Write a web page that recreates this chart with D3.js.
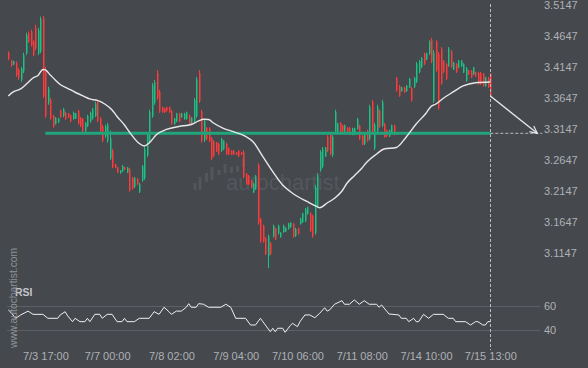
<!DOCTYPE html>
<html><head><meta charset="utf-8">
<script src="https://cdn.jsdelivr.net/npm/d3@7"></script>
<style>html,body{margin:0;padding:0;background:#45484d;}svg{display:block}</style>
</head><body><svg id="c" width="588" height="368"></svg>
<script>
// ---------- DATA ----------
const opens = [3.438,3.425,3.419,3.421,3.411,3.394,3.408,3.437,3.469,3.472,
3.456,3.478,3.437,3.440,3.493,3.410,3.357,3.362,3.336,3.323,
3.326,3.345,3.336,3.341,3.340,3.337,3.331,3.332,3.344,3.333,
3.331,3.312,3.320,3.327,3.332,3.336,3.358,3.332,3.319,3.303,
3.296,3.268,3.280,3.258,3.253,3.244,3.247,3.253,3.245,3.250,
3.236,3.222,3.235,3.214,3.232,3.236,3.273,3.296,3.336,3.357,
3.405,3.375,3.350,3.348,3.350,3.350,3.344,3.323,3.327,3.340,
3.334,3.331,3.331,3.337,3.323,3.328,3.336,3.405,3.343,3.297,
3.317,3.316,3.300,3.295,3.293,3.291,3.280,3.283,3.291,3.284,
3.280,3.280,3.277,3.280,3.277,3.278,3.243,3.240,3.232,3.213,
3.219,3.257,3.170,3.159,3.139,3.110,3.131,3.142,3.155,3.147,
3.141,3.149,3.150,3.154,3.157,3.162,3.143,3.155,3.162,3.165,
3.167,3.178,3.179,3.175,3.148,3.191,3.249,3.255,3.271,3.303,
3.306,3.273,3.311,3.310,3.325,3.321,3.311,3.317,3.317,3.306,
3.306,3.315,3.320,3.304,3.291,3.312,3.300,3.358,3.284,3.312,
3.344,3.321,3.323,3.313,3.303,3.310,3.321,3.397,3.384,3.376,
3.382,3.376,3.382,3.381,3.383,3.391,3.407,3.415,3.436,3.427,
3.436,3.459,3.360,3.455,3.436,3.444,3.425,3.419,3.417,3.440,
3.411,3.420,3.414,3.416,3.406,3.393,3.409,3.409,3.403,3.406,
3.405,3.405,3.404,3.384,3.398,3.404];
const highs = [3.440,3.426,3.425,3.424,3.413,3.415,3.438,3.470,3.472,3.475,
3.458,3.483,3.478,3.496,3.497,3.415,3.383,3.365,3.338,3.334,
3.333,3.346,3.349,3.343,3.341,3.338,3.343,3.341,3.346,3.334,
3.333,3.326,3.338,3.343,3.349,3.359,3.362,3.334,3.322,3.322,
3.325,3.313,3.283,3.259,3.254,3.249,3.257,3.254,3.254,3.252,
3.238,3.238,3.236,3.228,3.257,3.286,3.309,3.346,3.389,3.394,
3.410,3.378,3.351,3.349,3.351,3.351,3.346,3.333,3.341,3.341,
3.341,3.341,3.343,3.338,3.334,3.365,3.399,3.410,3.346,3.330,
3.318,3.318,3.302,3.297,3.294,3.293,3.301,3.297,3.293,3.285,
3.281,3.281,3.278,3.281,3.278,3.281,3.244,3.241,3.233,3.228,
3.241,3.260,3.172,3.161,3.141,3.145,3.133,3.161,3.156,3.161,
3.149,3.161,3.157,3.164,3.165,3.164,3.156,3.156,3.172,3.180,
3.188,3.190,3.181,3.177,3.225,3.244,3.281,3.286,3.286,3.305,
3.309,3.305,3.346,3.325,3.326,3.322,3.322,3.318,3.318,3.317,
3.317,3.333,3.322,3.305,3.309,3.314,3.354,3.362,3.325,3.354,
3.346,3.362,3.325,3.314,3.314,3.322,3.322,3.399,3.386,3.383,
3.383,3.386,3.397,3.383,3.399,3.423,3.426,3.431,3.438,3.438,
3.458,3.462,3.442,3.458,3.439,3.447,3.426,3.421,3.447,3.442,
3.423,3.421,3.426,3.426,3.421,3.415,3.410,3.410,3.415,3.407,
3.407,3.407,3.405,3.399,3.399,3.405];
const lows = [3.426,3.415,3.418,3.399,3.394,3.391,3.405,3.434,3.454,3.448,
3.432,3.442,3.434,3.437,3.365,3.333,3.354,3.330,3.317,3.322,
3.325,3.333,3.334,3.330,3.333,3.326,3.330,3.331,3.322,3.318,
3.310,3.310,3.318,3.325,3.330,3.334,3.326,3.310,3.294,3.301,
3.293,3.265,3.252,3.252,3.244,3.243,3.246,3.249,3.244,3.214,
3.217,3.220,3.225,3.212,3.230,3.233,3.270,3.293,3.333,3.354,
3.362,3.341,3.341,3.341,3.343,3.341,3.322,3.322,3.326,3.326,
3.333,3.330,3.330,3.322,3.322,3.326,3.333,3.357,3.293,3.294,
3.297,3.294,3.265,3.270,3.278,3.273,3.278,3.281,3.273,3.273,
3.273,3.273,3.273,3.270,3.273,3.236,3.225,3.225,3.220,3.212,
3.217,3.161,3.132,3.132,3.112,3.091,3.112,3.140,3.136,3.145,
3.140,3.148,3.149,3.153,3.156,3.140,3.141,3.145,3.161,3.164,
3.165,3.177,3.149,3.140,3.145,3.188,3.246,3.252,3.270,3.278,
3.273,3.270,3.309,3.309,3.310,3.310,3.310,3.310,3.305,3.305,
3.305,3.314,3.297,3.289,3.289,3.294,3.297,3.309,3.281,3.309,
3.317,3.318,3.301,3.302,3.302,3.309,3.305,3.375,3.367,3.375,
3.373,3.375,3.381,3.359,3.381,3.389,3.405,3.413,3.418,3.426,
3.434,3.421,3.357,3.407,3.346,3.386,3.405,3.394,3.415,3.413,
3.410,3.405,3.413,3.415,3.405,3.391,3.402,3.397,3.402,3.399,
3.386,3.386,3.383,3.383,3.381,3.367];
const closes = [3.428,3.417,3.424,3.402,3.397,3.412,3.434,3.466,3.456,3.450,
3.434,3.445,3.474,3.492,3.368,3.336,3.380,3.332,3.319,3.333,
3.332,3.334,3.347,3.331,3.334,3.327,3.341,3.340,3.324,3.319,
3.312,3.325,3.336,3.341,3.347,3.356,3.328,3.312,3.296,3.319,
3.322,3.300,3.254,3.253,3.245,3.248,3.256,3.250,3.253,3.216,
3.219,3.236,3.226,3.226,3.255,3.282,3.306,3.342,3.385,3.390,
3.365,3.343,3.342,3.342,3.344,3.342,3.324,3.332,3.340,3.327,
3.340,3.340,3.342,3.323,3.333,3.362,3.395,3.360,3.296,3.327,
3.299,3.296,3.267,3.272,3.279,3.275,3.299,3.296,3.275,3.274,
3.274,3.274,3.274,3.271,3.274,3.238,3.226,3.226,3.221,3.227,
3.239,3.164,3.134,3.134,3.114,3.142,3.114,3.159,3.138,3.159,
3.148,3.160,3.156,3.163,3.164,3.142,3.154,3.146,3.171,3.179,
3.186,3.189,3.151,3.142,3.221,3.240,3.278,3.283,3.285,3.280,
3.275,3.302,3.343,3.324,3.311,3.311,3.321,3.311,3.306,3.316,
3.316,3.331,3.299,3.290,3.307,3.296,3.350,3.312,3.322,3.350,
3.319,3.358,3.302,3.303,3.313,3.321,3.306,3.377,3.368,3.382,
3.374,3.385,3.396,3.361,3.397,3.420,3.424,3.429,3.420,3.437,
3.456,3.424,3.438,3.410,3.349,3.389,3.407,3.396,3.445,3.415,
3.422,3.407,3.425,3.425,3.420,3.413,3.403,3.398,3.414,3.400,
3.388,3.388,3.385,3.398,3.383,3.368];

const maIdx = [0,2,5,8,10,12,14,15,17,19,21,24,27,31,33,36,39,42,44,47,
49,53,55,57,60,64,69,74,77,79,81,83,87,91,96,99,103,107,111,115,
121,125,126,129,132,135,137,140,143,145,149,152,157,161,165,169,171,173,176,180,
184,189,195];
const maVal = [3.3682,3.3747,3.3795,3.3899,3.3972,3.4012,3.4109,3.4101,3.4020,3.3940,
3.3867,3.3806,3.3742,3.3669,3.3634,3.3610,3.3553,3.3457,3.3352,3.3215,
3.3102,3.2917,3.2877,3.2925,3.3062,3.3143,3.3191,3.3223,3.3280,3.3307,
3.3304,3.3247,3.3162,3.3107,3.3030,3.2946,3.2705,3.2463,3.2249,3.2115,
3.1980,3.1899,3.1883,3.1959,3.2035,3.2152,3.2276,3.2399,3.2518,3.2615,
3.2748,3.2829,3.2853,3.3022,3.3231,3.3404,3.3513,3.3553,3.3645,3.3747,
3.3843,3.3896,3.3908];

const rsiIdx = [0,1,3,5,8,10,14,16,20,21,23,24,26,27,29,31,32,33,35,37,
38,40,42,44,46,47,48,51,53,57,59,61,63,65,66,68,70,72,73,74,
76,77,79,81,86,88,90,92,96,98,100,102,103,106,107,108,109,111,112,114,
115,117,118,120,122,124,126,128,129,130,132,135,136,138,140,142,144,146,149,150,
151,154,158,159,161,162,164,165,166,168,170,172,176,178,180,181,185,187,189,190,
192,193,194,195];
const rsiVal = [57,55,50,52.8,56,53.3,53.3,50,50,52.8,
55.5,52,47.2,50,47.2,47.2,50,47.2,53.3,53.3,
50,53.3,53.3,47.2,47.2,50,47.2,47.2,50,50,
55.5,53.3,59.2,55.5,53.3,56,56,59.2,62.2,59.2,
59.2,62.2,61.7,59.2,59.2,61.7,59.2,50,50,44.4,
44.4,50,47.2,38.8,41.7,38.8,41.7,41.7,38.3,43.8,
45.8,43,47.2,52.8,52.8,50.5,54.2,58.8,56,57,
61.7,64.7,61.7,61.7,65.3,61.7,64.7,61.7,61.7,59.2,
61.1,53.6,52.8,50,50,47.2,50,47.2,47.2,53.3,
50,53.3,53.3,50,50,47.2,47.2,44.4,47.2,47.2,
44.4,44.4,47.2,47.2];

const priceTicks = [3.1147,3.1647,3.2147,3.2647,3.3147,3.3647,3.4147,3.4647,3.5147];
const rsiTicks = [40,60];
const timeTickIdx = [15,40,66,92,117,143,169,195];
const timeLabels = ["7/3 17:00","7/7 00:00","7/8 02:00","7/9 04:00","7/10 06:00","7/11 08:00","7/14 10:00","7/15 13:00"];

const levelPrice = 3.3081;
const levelStartIdx = 15;
const lastIdx = 195;
const forecastEndIdx = 214;
const dashEndIdx = 216;

// ---------- DRAW ----------
const W = 588, H = 368;
const BG = "#45484d", UP = "#1dbf82", DOWN = "#ff3a3a", TXT = "#aeb1b5";
const svg = d3.select("#c");
svg.append("rect").attr("width", W).attr("height", H).attr("fill", BG);

const x = d3.scaleLinear().domain([0, lastIdx]).range([8.3, 490.3]);
const y = d3.scaleLinear().domain([3.1147, 3.5147]).range([253.4, 5]);
const yr = d3.scaleLinear().domain([40, 60]).range([330.3, 306.3]);

// watermark
const wm = svg.append("g").attr("fill", "#53575c");
[[195,183,190],[200,177,190],[206.5,173,182],[212,167,180],[219,170,175],[225,164,173],[231.5,167,173],[237.5,166,172],[243.5,159,167]]
  .forEach(b => wm.append("rect").attr("x", b[0]-1.5).attr("y", b[1]).attr("width", 3).attr("height", b[2]-b[1]));
wm.append("text").attr("x", 226).attr("y", 190).attr("font-family", "Liberation Sans, Arial, sans-serif")
  .attr("font-size", 22).text("autochartist");

// RSI grid
const g = svg.append("g");
rsiTicks.forEach(v => g.append("line").attr("x1", 7).attr("x2", 540)
  .attr("y1", Math.round(yr(v)) + 0.5).attr("y2", Math.round(yr(v)) + 0.5)
  .attr("stroke", "#5c6066").attr("stroke-width", 1));

// candles
const idx = d3.range(opens.length);
const cg = svg.append("g");
idx.forEach(i => {
  const up = closes[i] >= opens[i];
  const col = up ? UP : DOWN;
  const cx = Math.round(x(i)) + 0.5;
  cg.append("line").attr("x1", cx).attr("x2", cx).attr("y1", y(highs[i])).attr("y2", y(lows[i]))
    .attr("stroke", col).attr("stroke-width", 1);
  const yt = y(Math.max(opens[i], closes[i])), yb = y(Math.min(opens[i], closes[i]));
  cg.append("rect").attr("x", cx - 0.5).attr("y", yt).attr("width", 1.5).attr("height", Math.max(1, yb - yt)).attr("fill", col);
});

// level line
svg.append("line").attr("x1", x(levelStartIdx)).attr("x2", x(lastIdx))
  .attr("y1", y(levelPrice)).attr("y2", y(levelPrice))
  .attr("stroke", "#21a57b").attr("stroke-width", 3);
svg.append("line").attr("x1", x(lastIdx)).attr("x2", x(dashEndIdx))
  .attr("y1", y(levelPrice)).attr("y2", y(levelPrice))
  .attr("stroke", "#b9bcc0").attr("stroke-width", 1).attr("stroke-dasharray", "3,2");

// moving average
const maLine = d3.line().x(d => x(d[0])).y(d => y(d[1])).curve(d3.curveMonotoneX);
svg.append("path").attr("d", maLine(maIdx.map((d, i) => [d, maVal[i]])))
  .attr("fill", "none").attr("stroke", "#e8e8e8").attr("stroke-width", 1.4);

// vertical dashed line
svg.append("line").attr("x1", Math.round(x(lastIdx)) + 0.5).attr("x2", Math.round(x(lastIdx)) + 0.5)
  .attr("y1", 4).attr("y2", 350).attr("stroke", "#b9bcc0").attr("stroke-width", 1).attr("stroke-dasharray", "3,2");

// forecast arrow
const ax0 = x(lastIdx), ay0 = y(closes[lastIdx]), ax1 = x(forecastEndIdx), ay1 = y(levelPrice);
svg.append("line").attr("x1", ax0).attr("y1", ay0).attr("x2", ax1).attr("y2", ay1)
  .attr("stroke", "#e8e8e8").attr("stroke-width", 1.3);
const ang = Math.atan2(ay1 - ay0, ax1 - ax0), L = 8, spread = 0.45;
svg.append("path").attr("d", `M${ax1 - L*Math.cos(ang - spread)},${ay1 - L*Math.sin(ang - spread)}L${ax1},${ay1}L${ax1 - L*Math.cos(ang + spread)},${ay1 - L*Math.sin(ang + spread)}`)
  .attr("fill", "none").attr("stroke", "#e8e8e8").attr("stroke-width", 1.2);

// RSI line
const rsiLine = d3.line().x(d => x(d[0])).y(d => yr(d[1]));
svg.append("path").attr("d", rsiLine(rsiIdx.map((d, i) => [d, rsiVal[i]])))
  .attr("fill", "none").attr("stroke", "#f0f0f0").attr("stroke-width", 1);

// axes
const font = "Liberation Sans, Arial, sans-serif";
function styleAxis(sel) {
  sel.select(".domain").remove();
  sel.selectAll("line").remove();
  sel.selectAll("text").attr("fill", TXT).attr("font-family", font).attr("font-size", 11);
}
svg.append("g").attr("transform", "translate(544,0)")
  .call(d3.axisRight(y).tickValues(priceTicks).tickFormat(d3.format(".4f")).tickSize(0).tickPadding(0))
  .call(styleAxis);
svg.append("g").attr("transform", "translate(544,0)")
  .call(d3.axisRight(yr).tickValues(rsiTicks).tickFormat(d3.format("d")).tickSize(0).tickPadding(0))
  .call(styleAxis);
svg.append("g").attr("transform", "translate(0,349)")
  .call(d3.axisBottom(x).tickValues(timeTickIdx).tickFormat((d, i) => timeLabels[i]).tickSize(0).tickPadding(3))
  .call(styleAxis);

// labels
svg.append("text").attr("x", 15).attr("y", 296).attr("fill", "#c3c6ca").attr("font-family", font)
  .attr("font-size", 10.5).attr("font-weight", "bold").text("RSI");
svg.append("text").attr("transform", "translate(16.5,348) rotate(-90)").attr("fill", "#8e9196")
  .attr("font-family", font).attr("font-size", 10.3).text("www.autochartist.com");
</script></body></html>
